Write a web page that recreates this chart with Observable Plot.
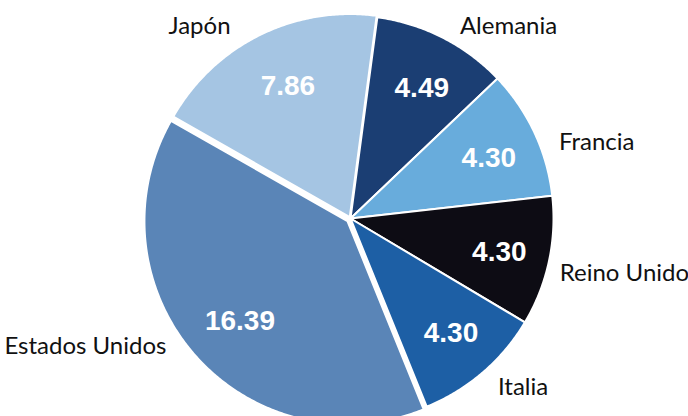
<!DOCTYPE html>
<html>
<head>
<meta charset="utf-8">
<script src="https://cdn.jsdelivr.net/npm/d3@7"></script>
<script src="https://cdn.jsdelivr.net/npm/@observablehq/plot@0.6"></script>
<style>
  html, body { margin: 0; padding: 0; background: #fff; }
</style>
</head>
<body>
<div id="chart"></div>
<script>
// ---- data ----
const countries = ["Alemania", "Francia", "Reino Unido", "Italia", "Estados Unidos", "Japón"];
const values = [4.49, 4.30, 4.30, 4.30, 16.39, 7.86];
const colors = ["#1b3e73", "#68acdc", "#0d0c14", "#1d5fa5", "#5a85b7", "#a5c5e3"];

// ---- layout / style ----
const W = 688, H = 416;
const cx = 350, cy = 218, R = 203;      // pixel geometry of the pie
const startDeg = 7.6;                    // angle of first slice edge (clockwise from 12 o'clock)
const explode = [0, 0, 0, 0, 0.02, 0.008];
const valueDist = 0.73, labelDist = 1.1;
// pixel nudges of the outside labels (layout only)
const labelNudge = [[8, 7], [6, 18], [-9, 8], [2, -1], [-13, -22], [-20, 9]];

const total = d3.sum(values);
let acc = startDeg;
const slices = countries.map((name, i) => {
  const a0 = acc, a1 = acc + values[i] / total * 360;
  acc = a1;
  const mid = (a0 + a1) / 2;
  const rad = mid * Math.PI / 180;
  return {i, name, value: values[i], color: colors[i], a0, a1, mid,
          ex: Math.sin(rad) * explode[i], ey: Math.cos(rad) * explode[i]};
});

// polygon vertices of each wedge (unit radius)
const wedgePts = [];
for (const s of slices) {
  wedgePts.push({name: s.name, x: s.ex, y: s.ey});
  const n = Math.max(2, Math.ceil((s.a1 - s.a0) / 0.5));
  for (let k = 0; k <= n; k++) {
    const a = (s.a0 + (s.a1 - s.a0) * k / n) * Math.PI / 180;
    wedgePts.push({name: s.name, x: s.ex + Math.sin(a), y: s.ey + Math.cos(a)});
  }
  wedgePts.push({name: s.name, x: s.ex, y: s.ey});
}

const valueLabels = slices.map(s => {
  const a = s.mid * Math.PI / 180;
  return {x: s.ex + Math.sin(a) * valueDist, y: s.ey + Math.cos(a) * valueDist, text: s.value.toFixed(2)};
});
const nameLabels = slices.map(s => {
  const a = s.mid * Math.PI / 180;
  const [nx, ny] = labelNudge[s.i];
  return {x: s.ex + Math.sin(a) * labelDist + nx / R,
          y: s.ey + Math.cos(a) * labelDist - ny / R,
          text: s.name, right: Math.sin(a) >= 0};
});

const plot = Plot.plot({
  width: W, height: H,
  margin: 0,
  x: {domain: [-cx / R, (W - cx) / R], range: [0, W], axis: null},
  y: {domain: [-(H - cy) / R, cy / R], range: [H, 0], axis: null},
  color: {domain: countries, range: colors},
  marks: [
    Plot.line(wedgePts, {x: "x", y: "y", z: "name", fill: "name", stroke: "white", strokeWidth: 2, strokeLinejoin: "round", curve: "linear"}),
    Plot.text(valueLabels, {x: "x", y: "y", dx: 4, dy: 2, text: "text", fill: "white", fontSize: 28, fontWeight: "bold", fontFamily: "Liberation Sans, Arial, sans-serif"}),
    Plot.text(nameLabels.filter(d => d.right), {x: "x", y: "y", text: "text", textAnchor: "start", fill: "#111", fontSize: 24, fontFamily: "Lato, sans-serif"}),
    Plot.text(nameLabels.filter(d => !d.right), {x: "x", y: "y", text: "text", textAnchor: "end", fill: "#111", fontSize: 24, fontFamily: "Lato, sans-serif"})
  ]
});
document.getElementById("chart").appendChild(plot);
</script>
</body>
</html>
